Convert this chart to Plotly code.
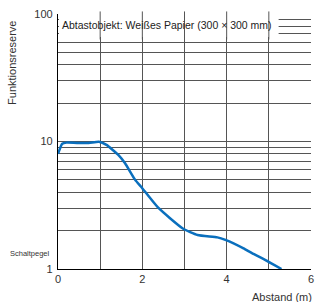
import plotly.graph_objects as go

distance_m = [0.0, 0.1, 0.2, 0.45, 0.73, 0.97, 1.15, 1.43, 1.59, 1.83, 1.97, 2.37, 2.96, 3.31, 3.78, 3.97, 4.40, 4.60, 4.91, 5.30]
reserve = [8.0, 9.6, 9.8, 9.75, 9.75, 9.96, 9.4, 7.85, 6.75, 5.0, 4.42, 3.04, 2.08, 1.85, 1.77, 1.69, 1.45, 1.33, 1.18, 1.0]

y_grid = [1, 2, 3, 4, 5, 6, 7, 8, 9, 10, 20, 30, 40, 50, 60, 70, 80, 90, 100]
y_labels = ["1" if v == 1 else "10" if v == 10 else "100" if v == 100 else "" for v in y_grid]
x_ticks = [0, 1, 2, 3, 4, 5, 6]
x_labels = ["0", "", "2", "", "4", "", "6"]

font = "Liberation Sans, Arial, sans-serif"
grid_col = "#555"

fig = go.Figure()
fig.add_trace(go.Scatter(
    x=distance_m, y=reserve, mode="lines",
    line=dict(color="#0a6fbd", width=2.5, shape="spline", smoothing=0.5),
    showlegend=False, hoverinfo="skip", cliponaxis=True,
))

shapes = [
    dict(type="rect", xref="paper", yref="paper", x0=0.004, x1=0.872, y0=0.91, y1=1.004,
         fillcolor="white", line=dict(width=0), layer="above"),
]
for xv in x_ticks[1:-1]:
    shapes.append(dict(type="line", xref="x", yref="paper", x0=xv, x1=xv, y0=0.9, y1=1.01,
                       line=dict(color=grid_col, width=1), layer="above"))

fig.update_layout(
    width=318, height=302,
    margin=dict(l=58, r=4, t=14, b=33),
    paper_bgcolor="white", plot_bgcolor="white",
    font=dict(family=font, size=11, color="#222"),
    xaxis=dict(
        range=[0, 6], tickvals=x_ticks, ticktext=x_labels,
        showgrid=True, gridcolor=grid_col, gridwidth=1,
        showline=True, linecolor="black", linewidth=1.2,
        ticks="", zeroline=False, tickfont=dict(size=11, color="#333"),
        ticklabeloverflow="allow",
    ),
    yaxis=dict(
        type="log", range=[0, 2], tickvals=y_grid, ticktext=y_labels,
        showgrid=True, gridcolor=grid_col, gridwidth=1,
        showline=True, linecolor="black", linewidth=1.2,
        ticks="", zeroline=False, tickfont=dict(size=11, color="#333"),
        ticklabelstandoff=2, ticklabeloverflow="allow",
    ),
    shapes=shapes,
    annotations=[
        dict(text="Abtastobjekt: Weißes Papier (300 × 300 mm)", xref="paper", yref="paper",
             x=0.008, y=0.955, xanchor="left", yanchor="middle", showarrow=False,
             font=dict(size=10.5, color="#222", family=font)),
        dict(text="Funktionsreserve", xref="paper", yref="paper", textangle=-90,
             x=-0.18, xanchor="center", y=0.81, yanchor="middle", showarrow=False,
             font=dict(size=11, color="#333", family=font)),
        dict(text="Schaltpegel", xref="paper", yref="paper",
             x=-0.025, xanchor="right", y=0.035, yanchor="bottom", showarrow=False,
             font=dict(size=7.5, color="#333", family="Liberation Sans Narrow, Liberation Sans, sans-serif")),
        dict(text="Abstand (m)", xref="paper", yref="paper",
             x=1.01, xanchor="right", y=-0.08, yanchor="top", showarrow=False,
             font=dict(size=11, color="#333", family=font)),
    ],
)

fig.write_html("out.html", config={"displayModeBar": False},
               post_script="document.body.style.margin='0';document.body.style.overflow='hidden';")
